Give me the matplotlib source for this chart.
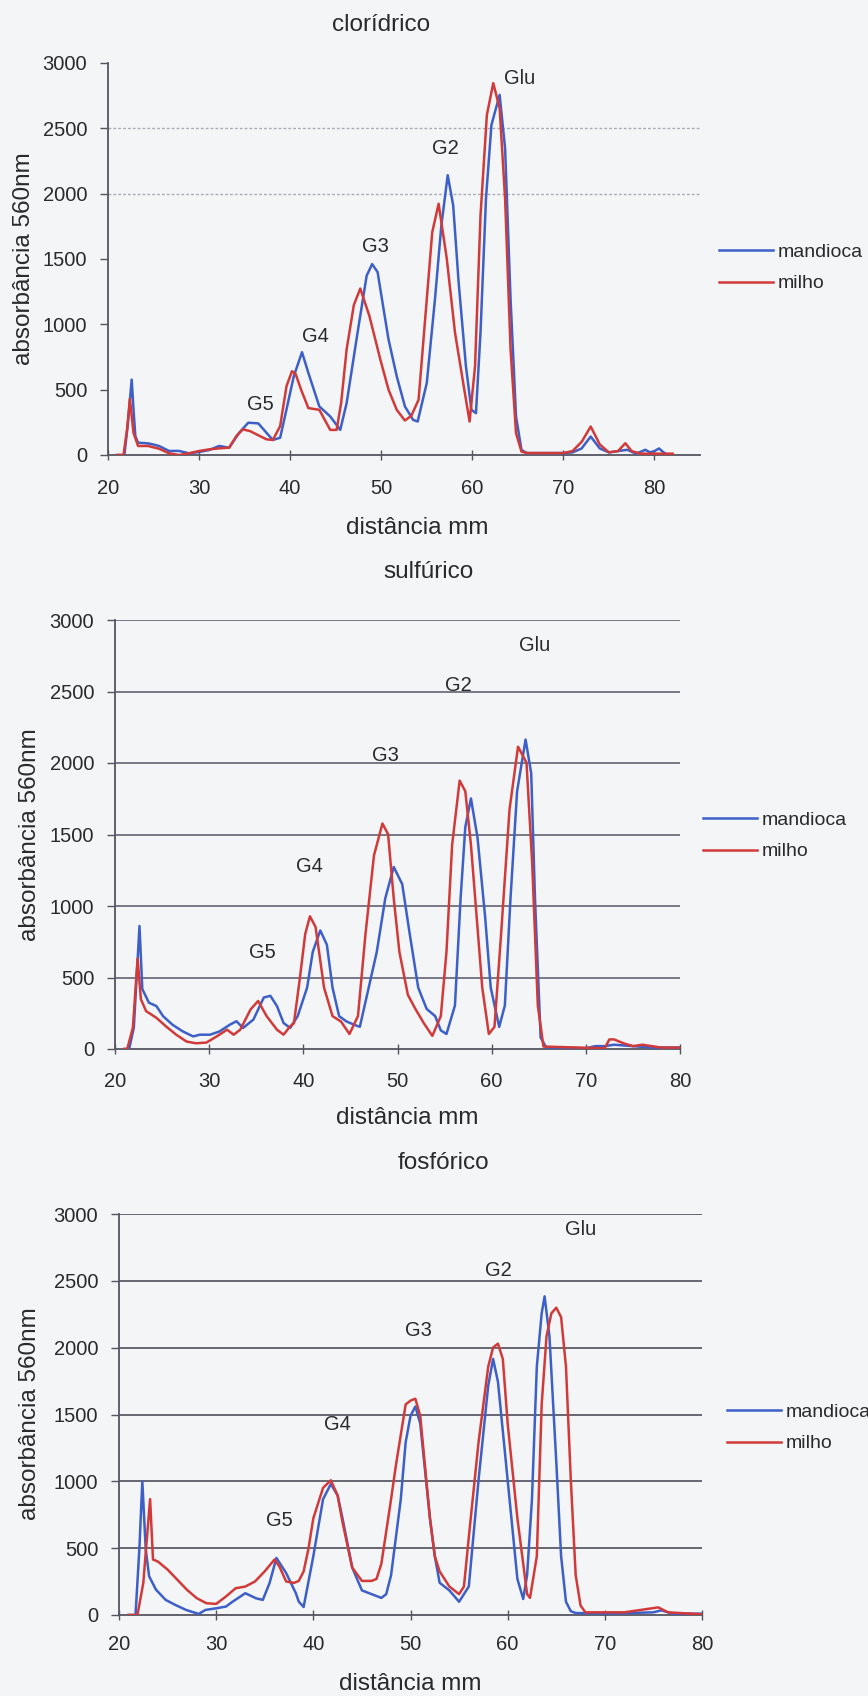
import matplotlib
matplotlib.use("Agg")
import matplotlib.pyplot as plt

plt.rcParams['font.family'] = ['Liberation Sans', 'DejaVu Sans']

# ---------------- data ----------------
series_names = ["mandioca", "milho"]
peak_labels = ["G5", "G4", "G3", "G2", "Glu"]

# clorídrico
clor_mand_x = [21.0, 21.8, 22.2, 22.6, 22.8, 23.0, 23.3, 24.4, 25.0, 25.6, 26.7, 27.8, 28.9, 30.0, 31.1, 32.2, 33.3,
               34.4, 35.4, 36.5, 37.4, 38.1, 38.9, 39.6, 40.4, 40.9, 41.3, 42.0, 43.2, 44.4, 45.5, 46.2, 47.4, 48.4,
               49.0, 49.6, 49.9, 50.8, 51.7, 52.6, 53.5, 54.0, 55.0, 55.9, 56.6, 57.3, 57.9, 58.5, 59.3, 59.9, 60.4,
               60.9, 61.5, 62.1, 63.0, 63.6, 64.2, 64.8, 65.4, 66.0, 70.0, 71.0, 72.0, 73.0, 74.0, 75.0, 76.0, 77.0,
               78.0, 79.0, 79.5, 80.0, 80.5, 81.0, 81.5]
clor_mand_y = [0, 0, 250, 577, 350, 145, 94, 89, 80, 69, 31, 31, 13, 23, 38, 69, 56,
               170, 247, 242, 170, 115, 132, 349, 603, 705, 787, 628, 372, 295, 192, 397, 936, 1372,
               1461, 1400, 1270, 885, 603, 372, 269, 256, 551, 1192, 1756, 2141, 1910, 1320, 679, 346, 320,
               936, 1962, 2526, 2756, 2346, 1192, 295, 38, 15, 15, 20, 50, 141, 50, 20, 30, 40,
               10, 40, 20, 30, 50, 20, 0]
clor_milho_x = [21.0, 21.7, 22.1, 22.4, 22.8, 23.3, 24.4, 25.6, 26.7, 27.8, 28.9, 30.0, 31.1, 32.2, 33.3, 34.1, 34.8,
                35.6, 36.3, 37.4, 38.1, 38.9, 39.6, 40.2, 40.6, 41.2, 42.0, 43.2, 44.4, 45.1, 45.6, 46.2, 47.0, 47.7,
                48.7, 49.9, 50.8, 51.7, 52.6, 53.3, 54.1, 55.0, 55.6, 56.3, 57.2, 58.1, 59.0, 59.7, 60.3, 60.9, 61.6,
                62.3, 63.0, 63.6, 64.2, 64.8, 65.4, 66.0, 70.0, 71.0, 72.0, 73.0, 74.0, 75.0, 76.0, 76.8, 77.5, 78.5,
                82.0]
clor_milho_y = [0, 0, 200, 430, 170, 69, 69, 48, 13, 0, 13, 31, 43, 51, 56, 145, 196,
                183, 158, 120, 115, 221, 527, 641, 620, 500, 359, 346, 192, 192, 400, 808, 1150, 1274,
                1064, 731, 500, 346, 264, 300, 423, 1192, 1705, 1923, 1500, 936, 551, 256, 679, 1833, 2603,
                2846, 2654, 1962, 808, 167, 26, 15, 15, 30, 100, 218, 80, 20, 30, 90, 30, 10,
                10]

# sulfúrico
sulf_mand_x = [21.0, 21.5, 22.0, 22.6, 22.9, 23.6, 24.4, 25.1, 26.1, 27.2, 28.3, 29.0, 30.1, 31.1, 32.2, 32.9, 33.6,
               34.7, 35.8, 36.5, 37.2, 37.9, 38.6, 39.4, 40.4, 41.0, 41.8, 42.5, 43.1, 43.8, 44.6, 45.5, 46.0, 47.8,
               48.7, 49.6, 50.5, 51.3, 52.2, 53.1, 54.0, 54.6, 55.2, 56.1, 56.7, 57.2, 57.8, 58.5, 59.3, 59.9, 60.8,
               61.4, 62.0, 62.7, 63.6, 64.2, 64.6, 65.2, 65.8, 70.0, 71.0, 72.0, 73.0, 75.0, 77.0, 80.0]
sulf_mand_y = [0, 0, 150, 860, 419, 324, 300, 230, 170, 123, 88, 100, 100, 123, 170, 194, 147,
               206, 360, 372, 300, 182, 147, 230, 429, 679, 829, 729, 429, 230, 192, 167, 155, 679,
               1053, 1273, 1153, 804, 429, 280, 230, 130, 105, 304, 1053, 1552, 1752, 1477, 928, 429, 155,
               304, 1053, 1802, 2164, 1927, 1053, 80, 10, 5, 20, 20, 30, 20, 10, 10]
sulf_milho_x = [21.0, 21.3, 21.9, 22.4, 22.75, 23.3, 24.4, 25.4, 26.5, 27.6, 28.6, 29.7, 30.8, 31.9, 32.6, 33.3, 34.4,
                35.2, 36.1, 37.2, 37.9, 38.6, 39.0, 39.6, 40.2, 40.7, 41.3, 42.2, 43.1, 44.0, 44.9, 45.8, 46.6, 47.5,
                48.4, 49.0, 49.6, 50.2, 51.1, 51.9, 52.8, 53.7, 54.6, 55.2, 55.8, 56.6, 57.2, 57.8, 58.4, 59.0, 59.7,
                60.3, 61.0, 61.9, 62.8, 63.7, 64.3, 64.9, 65.5, 72.0, 72.5, 73.0, 74.0, 75.0, 76.0, 77.0, 78.0, 80.0]
sulf_milho_y = [0, 0, 150, 632, 348, 265, 218, 159, 100, 52, 40, 45, 88, 135, 100, 135, 277,
                336, 230, 135, 100, 159, 180, 479, 804, 928, 853, 429, 230, 192, 105, 230, 804, 1353,
                1577, 1502, 1053, 679, 379, 280, 180, 92, 230, 679, 1427, 1877, 1802, 1427, 928, 429, 105,
                155, 804, 1677, 2114, 2002, 1303, 304, 17, 5, 67, 67, 40, 20, 30, 20, 10, 10]

# fosfórico
fosf_mand_x = [21.0, 21.7, 22.1, 22.4, 22.75, 23.1, 23.8, 24.8, 25.8, 26.9, 28.2, 28.9, 30.0, 31.0, 31.7, 33.0, 34.1,
               34.8, 35.5, 36.2, 37.2, 38.2, 38.5, 39.0, 40.0, 41.0, 41.8, 42.5, 43.0, 44.0, 45.0, 46.0, 47.0, 47.5,
               48.0, 49.0, 49.5, 50.0, 50.5, 51.0, 52.0, 52.5, 53.0, 54.0, 55.0, 56.0, 57.0, 58.0, 58.5, 59.0, 60.0,
               61.0, 61.6, 62.0, 62.5, 63.0, 63.5, 63.8, 64.3, 65.0, 65.5, 66.0, 66.5, 67.0, 70.0, 75.0, 75.8, 77.0,
               80.0]
fosf_mand_y = [0, 0, 500, 1000, 490, 290, 190, 113, 75, 38, 8, 38, 50, 63, 100, 163, 125,
               113, 240, 427, 314, 163, 100, 60, 440, 866, 980, 894, 724, 355, 184, 156, 128, 156,
               298, 866, 1291, 1490, 1560, 1433, 724, 440, 241, 184, 99, 213, 1008, 1717, 1916, 1745, 1008,
               270, 120, 298, 866, 1859, 2257, 2384, 2086, 1150, 440, 99, 28, 15, 10, 20, 35, 10,
               10]
fosf_milho_x = [21.0, 21.9, 22.5, 23.2, 23.5, 24.0, 25.0, 26.0, 27.0, 28.0, 29.0, 30.0, 31.0, 32.0, 33.0, 34.0, 35.0,
                36.0, 36.5, 37.2, 38.0, 38.5, 39.0, 39.5, 40.0, 41.0, 41.8, 42.5, 43.0, 44.0, 45.0, 46.0, 46.5, 47.0,
                48.0, 48.5, 49.0, 49.5, 50.0, 50.5, 51.0, 52.0, 52.5, 53.0, 54.0, 55.0, 55.5, 56.0, 57.0, 58.0, 58.5,
                59.0, 59.5, 60.0, 61.0, 62.0, 62.3, 63.0, 63.5, 64.0, 64.5, 65.0, 65.5, 66.0, 66.5, 67.0, 67.5, 68.0,
                72.0, 75.5, 76.5, 80.0]
fosf_milho_y = [0, 0, 240, 867, 415, 400, 340, 264, 188, 126, 88, 83, 138, 200, 213, 251, 327,
                415, 364, 251, 240, 255, 326, 497, 724, 951, 1008, 894, 695, 355, 255, 255, 270, 383,
                866, 1121, 1348, 1575, 1604, 1618, 1490, 724, 440, 326, 213, 156, 213, 582, 1291, 1859, 2001,
                2030, 1916, 1433, 724, 156, 128, 440, 1575, 2086, 2257, 2299, 2228, 1859, 1008, 298, 71, 20,
                20, 57, 20, 5]

# peak label positions (data coordinates) per panel
clor_label_x = [36.7, 42.8, 49.4, 57.0, 65.2]
clor_label_y = [385, 908, 1592, 2346, 2885]
sulf_label_x = [35.7, 40.7, 48.7, 56.5, 64.6]
sulf_label_y = [678, 1273, 2049, 2545, 2825]
fosf_label_x = [36.5, 42.5, 50.8, 59.0, 67.5]
fosf_label_y = [710, 1428, 2131, 2580, 2887]

# ---------------- figure ----------------
W, H = 868, 1696
BG = '#f4f5f7'
BLUE = '#3d5fc8'
RED = '#d23a3a'
TXT = '#2a2a2a'

fig = plt.figure(figsize=(W / 100, H / 100), dpi=100, facecolor=BG)


def fx(px):
    return px / W


def fy(py):
    return 1 - py / H


panels = [
    dict(title="clorídrico", rect=(108, 63, 700, 455), xmax=85,
         mand=(clor_mand_x, clor_mand_y), milho=(clor_milho_x, clor_milho_y),
         lab=(clor_label_x, clor_label_y), grid=[2000, 2500], grid_style=dict(color='#a9abb5', lw=1.0, ls=(0, (2, 1.5))),
         title_pos=(381, 25), ylabel_pos=(24, 259), xlabel_pos=(417, 528),
         legend_pos=(719, 268), xtick_pad=14),
    dict(title="sulfúrico", rect=(115, 620, 680, 1049), xmax=80,
         mand=(sulf_mand_x, sulf_mand_y), milho=(sulf_milho_x, sulf_milho_y),
         lab=(sulf_label_x, sulf_label_y), grid=[500, 1000, 1500, 2000, 2500, 3000],
         grid_style=dict(color='#6e6e7c', lw=1.3, ls='-'),
         title_pos=(429, 572), ylabel_pos=(30, 835), xlabel_pos=(407, 1118),
         legend_pos=(703, 836), xtick_pad=13),
    dict(title="fosfórico", rect=(119, 1214, 702, 1615), xmax=80,
         mand=(fosf_mand_x, fosf_mand_y), milho=(fosf_milho_x, fosf_milho_y),
         lab=(fosf_label_x, fosf_label_y), grid=[500, 1000, 1500, 2000, 2500, 3000],
         grid_style=dict(color='#5c5c66', lw=1.3, ls='-'),
         title_pos=(443, 1163), ylabel_pos=(30, 1414), xlabel_pos=(410, 1684),
         legend_pos=(727, 1428), xtick_pad=11),
]

for p in panels:
    l, t, r, b = p['rect']
    ax = fig.add_axes([fx(l), fy(b), (r - l) / W, (b - t) / H])
    ax.set_facecolor('none')
    ax.set_xlim(20, p['xmax'])
    ax.set_ylim(0, 3000)
    for g in p['grid']:
        ax.axhline(g, zorder=1, **p['grid_style'])
    ax.plot(*p['mand'], color=BLUE, lw=1.8, label=series_names[0], zorder=3)
    ax.plot(*p['milho'], color=RED, lw=1.8, label=series_names[1], zorder=3)
    for name, lx, ly in zip(peak_labels, *p['lab']):
        ax.text(lx, ly, name, ha='center', va='center', fontsize=14.5, color=TXT)
    for s in ['top', 'right']:
        ax.spines[s].set_visible(False)
    for s in ['left', 'bottom']:
        ax.spines[s].set_color('#555560')
        ax.spines[s].set_linewidth(1.3)
    ax.set_xticks([20, 30, 40, 50, 60, 70, 80])
    ax.set_yticks([0, 500, 1000, 1500, 2000, 2500, 3000])
    ax.tick_params(axis='y', direction='out', length=6, width=1.0, color='#555560',
                   labelsize=14.5, labelcolor=TXT, pad=9)
    ax.tick_params(axis='x', direction='inout', length=7, width=1.0, color='#555560',
                   labelsize=14.5, labelcolor=TXT, pad=p['xtick_pad'])
    fig.text(fx(p['title_pos'][0]), fy(p['title_pos'][1]), p['title'], ha='center', va='center',
             fontsize=17.5, color=TXT)
    fig.text(fx(p['ylabel_pos'][0]), fy(p['ylabel_pos'][1]), "absorbância 560nm", ha='center', va='center',
             rotation=90, fontsize=17.5, color=TXT)
    fig.text(fx(p['xlabel_pos'][0]), fy(p['xlabel_pos'][1]), "distância mm", ha='center', va='center',
             fontsize=17.5, color=TXT)
    ax.legend(loc='center left', bbox_to_anchor=(fx(p['legend_pos'][0]), fy(p['legend_pos'][1])),
              bbox_transform=fig.transFigure, frameon=False, borderpad=0, borderaxespad=0,
              handlelength=2.8, handletextpad=0.2, labelspacing=0.7, fontsize=14,
              labelcolor=TXT)

fig.savefig("out.png", dpi=100, facecolor=BG)
